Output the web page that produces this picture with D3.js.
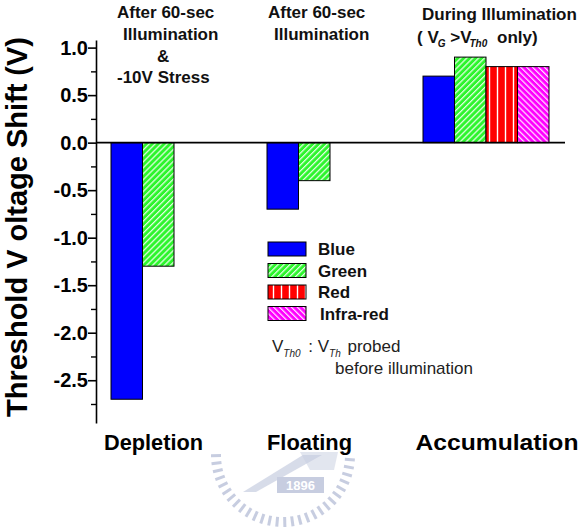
<!DOCTYPE html>
<html>
<head>
<meta charset="utf-8">
<script src="https://cdn.jsdelivr.net/npm/d3@7"></script>
<style>
  html, body { margin: 0; padding: 0; background: #fff; }
  svg { display: block; font-family: "Liberation Sans", Arial, sans-serif; }
</style>
</head>
<body>
<svg id="chart" width="583" height="527"></svg>
<script>
// ---- data ----
const categories = ["Depletion", "Floating", "Accumulation"];
const seriesNames = ["Blue", "Green", "Red", "Infra-red"];
const blueValues = [-2.7, -0.7, 0.7];
const greenValues = [-1.3, -0.4, 0.9];
const redValues = [null, null, 0.8];
const infraredValues = [null, null, 0.8];
const yMajorTicks = [1.0, 0.5, 0.0, -0.5, -1.0, -1.5, -2.0, -2.5];
const yMinorTicks = [0.75, 0.25, -0.25, -0.75, -1.25, -1.75, -2.25, -2.75];
const yTitle = "Threshold V oltage Shift (V)";
const categoryLabelWidths = [99, 85, 163];

const seriesValues = [blueValues, greenValues, redValues, infraredValues];
const seriesFill = ["#0000ff", "url(#pGreen)", "url(#pRed)", "url(#pMag)"];

const svg = d3.select("#chart");
const font = "Liberation Sans, Arial, sans-serif";

// ---- patterns ----
const defs = svg.append("defs");
function stripePattern(id, bg, size, angle, lw) {
  const p = defs.append("pattern").attr("id", id)
    .attr("patternUnits", "userSpaceOnUse")
    .attr("width", size).attr("height", size)
    .attr("patternTransform", angle ? `rotate(${angle})` : null);
  p.append("rect").attr("width", size).attr("height", size).attr("fill", bg);
  p.append("line").attr("x1", 1.5).attr("x2", 1.5).attr("y1", 0).attr("y2", size)
    .attr("stroke", "#ffffff").attr("stroke-width", lw);
}
stripePattern("pGreen", "#2cf52c", 4.2, 45, 1.1);
stripePattern("pRed", "#ff0000", 8, 0, 1.4);
stripePattern("pMag", "#ff00ff", 4.2, -45, 1.1);

// ---- watermark (faint logo) ----
const wm = svg.append("g").attr("opacity", 0.55);
const wmColor = "#9aa5c8";
const wcx = 283, wcy = 455;
d3.range(4, 180, 6.5).forEach(a => {
  const r = a * Math.PI / 180;
  wm.append("line")
    .attr("x1", wcx + 62 * Math.cos(r)).attr("y1", wcy + 62 * Math.sin(r))
    .attr("x2", wcx + 72 * Math.cos(r)).attr("y2", wcy + 72 * Math.sin(r))
    .attr("stroke", wmColor).attr("stroke-width", 3);
});
wm.append("polygon").attr("points", "243,492 256,492 322,455 303,455").attr("fill", wmColor).attr("opacity", 0.7);
wm.append("polygon").attr("points", "300,452 338,452 334,470 310,470").attr("fill", wmColor).attr("opacity", 0.5);
wm.append("rect").attr("x", 277).attr("y", 477).attr("width", 47).attr("height", 16).attr("fill", wmColor);
wm.append("text").attr("x", 300.5).attr("y", 490).attr("text-anchor", "middle")
  .style("font-family", font).style("font-weight", "bold").style("font-size", "13px")
  .attr("fill", "#ffffff").text("1896");

// ---- scales ----
const y = d3.scaleLinear().domain([-2.95, 1.08]).range([423, 40]);
const x0 = d3.scaleBand().domain(categories).range([111, 579]).padding(0);
const x1 = d3.scaleBand().domain(seriesNames).range([0, 126]).padding(0);

// ---- bars ----
const barData = [];
categories.forEach((c, ci) => {
  seriesNames.forEach((s, si) => {
    const v = seriesValues[si][ci];
    if (v !== null) barData.push({ c, s, si, v });
  });
});
svg.append("g").selectAll("rect").data(barData).join("rect")
  .attr("x", d => x0(d.c) + x1(d.s))
  .attr("width", x1.bandwidth())
  .attr("y", d => y(Math.max(0, d.v)))
  .attr("height", d => Math.abs(y(d.v) - y(0)))
  .attr("fill", d => seriesFill[d.si])
  .attr("stroke", "#000").attr("stroke-width", 1);

// ---- zero line ----
svg.append("line")
  .attr("x1", 96).attr("x2", 565)
  .attr("y1", y(0)).attr("y2", y(0))
  .attr("stroke", "#000").attr("stroke-width", 1.6);

// ---- y axis ----
const axMinor = svg.append("g").attr("transform", "translate(96,0)")
  .call(d3.axisLeft(y).tickValues(yMinorTicks).tickSize(5).tickSizeOuter(0).tickFormat(""));
axMinor.select(".domain").remove();
axMinor.selectAll("line").attr("stroke-width", 1.4);

const axMajor = svg.append("g").attr("transform", "translate(96,0)")
  .call(d3.axisLeft(y).tickValues(yMajorTicks).tickSize(8).tickSizeOuter(0).tickPadding(0)
    .tickFormat(d => d.toFixed(1)));
axMajor.attr("font-family", null).attr("font-size", null);
axMajor.select(".domain").attr("stroke-width", 1.6);
axMajor.selectAll("line").attr("stroke-width", 1.6);
axMajor.selectAll("text")
  .style("font-family", font).style("font-weight", "bold").style("font-size", "20px")
  .attr("fill", "#000");

// ---- y title ----
svg.append("text")
  .attr("transform", "translate(27,227) rotate(-90)")
  .attr("text-anchor", "middle")
  .attr("textLength", 380).attr("lengthAdjust", "spacingAndGlyphs")
  .style("font-family", font).style("font-weight", "bold").style("font-size", "29px")
  .attr("fill", "#000").text(yTitle);

// ---- category labels ----
categories.forEach((c, ci) => {
  const present = seriesNames.filter((s, si) => seriesValues[si][ci] !== null);
  const cx = x0(c) + x1(present[0]) + (present.length * x1.bandwidth()) / 2 + 11;
  svg.append("text")
    .attr("x", cx - categoryLabelWidths[ci] / 2).attr("y", 450)
    .style("font-family", font).style("font-weight", "bold").style("font-size", "22px")
    .attr("textLength", categoryLabelWidths[ci]).attr("lengthAdjust", "spacingAndGlyphs")
    .attr("fill", "#000").text(c);
});

// ---- annotations ----
function bold(xp, yp, t) {
  return svg.append("text").attr("x", xp).attr("y", yp)
    .style("font-family", font).style("font-weight", "bold").style("font-size", "17px")
    .attr("fill", "#111").text(t);
}
bold(117, 18, "After 60-sec");
bold(123, 40, "Illumination");
bold(157, 62, "&");
bold(117, 83, "-10V Stress");
bold(268, 18, "After 60-sec");
bold(274, 40, "Illumination");
bold(422, 20, "During Illumination");

const ann = svg.append("text").attr("x", 417).attr("y", 43)
  .style("font-family", font).style("font-weight", "bold").style("font-size", "17px").attr("fill", "#111");
ann.append("tspan").text("( V");
ann.append("tspan").attr("dx", -1).attr("dy", 4).style("font-size", "10px").style("font-style", "italic").text("G");
ann.append("tspan").attr("dy", -4).text(" >V");
ann.append("tspan").attr("dx", -2).attr("dy", 4).style("font-size", "10px").style("font-style", "italic").text("Th0");
ann.append("tspan").attr("dx", 5).attr("dy", -4).text(" only)");

// ---- legend ----
const legend = svg.append("g");
seriesNames.forEach((s, si) => {
  const top = 242 + si * 21.5;
  legend.append("rect").attr("x", 268).attr("y", top).attr("width", 38).attr("height", 14)
    .attr("fill", seriesFill[si]).attr("stroke", "#000").attr("stroke-width", 1);
  legend.append("text").attr("x", si === 3 ? 320 : 318).attr("y", top + 13)
    .style("font-family", font).style("font-weight", "bold").style("font-size", "17px")
    .attr("fill", "#111").text(s);
});

const note = svg.append("text").attr("x", 272).attr("y", 352)
  .style("font-family", font).style("font-size", "17px").attr("fill", "#222");
note.append("tspan").text("V");
note.append("tspan").attr("dy", 5).style("font-size", "10px").style("font-style", "italic").text("Th0");
note.append("tspan").attr("dy", -5).attr("dx", 3).text(" : V");
note.append("tspan").attr("dy", 5).style("font-size", "10px").style("font-style", "italic").text("Th");
note.append("tspan").attr("dy", -5).attr("dx", 2).text("  probed");
svg.append("text").attr("x", 335).attr("y", 374)
  .style("font-family", font).style("font-size", "17px").attr("fill", "#222")
  .text("before illumination");
</script>
</body>
</html>
